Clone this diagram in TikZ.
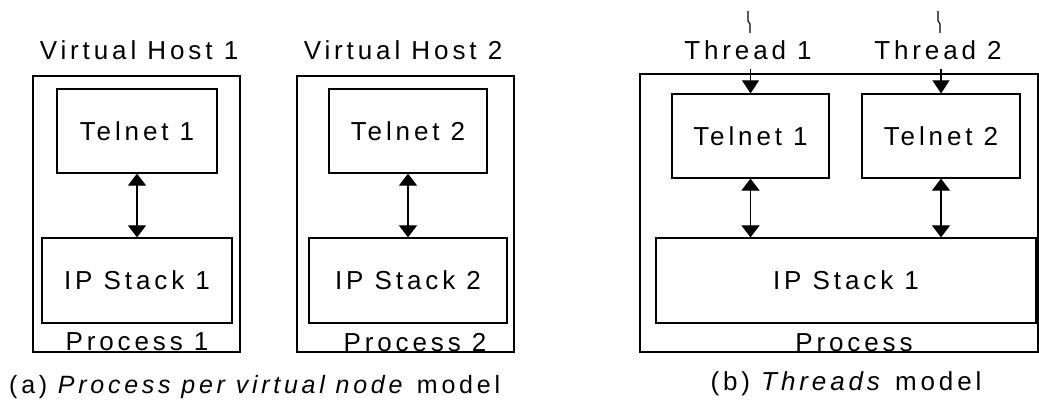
\documentclass[tikz,border=0pt]{standalone}
\usepackage{fontspec}
\setmainfont{Liberation Sans}[LetterSpace=15]
\usetikzlibrary{arrows.meta}
\tikzset{
  txt/.style={font=\fontsize{26}{31}\selectfont},
  box/.style={draw, line width=1.2pt, rectangle, inner sep=0pt, txt},
  lbl/.style={inner sep=0pt, anchor=base, txt},
  link/.style={line width=1.1pt, {Triangle[width=18pt,length=12pt]}-{Triangle[width=18pt,length=12pt]}},
  feed/.style={line width=1.1pt, -{Triangle[width=17pt,length=13pt]}},
  tick/.style={line width=1.1pt}
}
\begin{document}
\begin{tikzpicture}[x=1pt,y=-1pt]
\useasboundingbox (0,0) rectangle (1039,403);

% (a) one process per virtual host
\node[box, minimum width=207pt, minimum height=276pt] (vh1) at (136.5,214) {};
\node[box, minimum width=160pt, minimum height=84pt] (tel1a) at (137,131) {Telnet 1};
\node[box, minimum width=190pt, minimum height=85pt] (ip1a) at (137,280.5) {IP Stack 1};
\node[lbl] (vh1lbl) at (139,60) {Virtual Host 1};
\node[lbl] (p1lbl) at (137,351) {Process 1};
\draw[link] (tel1a.south) -- (ip1a.north);

\node[box, minimum width=217pt, minimum height=276pt] (vh2) at (405.5,214) {};
\node[box, minimum width=158pt, minimum height=84pt] (tel2a) at (408,131) {Telnet 2};
\node[box, minimum width=198pt, minimum height=85pt] (ip2a) at (408,280.5) {IP Stack 2};
\node[lbl] (vh2lbl) at (403,60) {Virtual Host 2};
\node[lbl] (p2lbl) at (415,352) {Process 2};
\draw[link] (tel2a.south) -- (ip2a.north);

\node[lbl, anchor=base west, font=\fontsize{25}{30}\selectfont] (capa) at (9,393) {(a) \textit{Process per virtual node} model};

% (b) one process, one thread per session
\node[box, minimum width=398pt, minimum height=278pt] (proc) at (839,213) {};
\node[box, minimum width=157pt, minimum height=84pt] (tel1b) at (750.5,136) {Telnet 1};
\node[box, minimum width=158pt, minimum height=84pt] (tel2b) at (941,136) {Telnet 2};
\node[box, minimum width=380pt, minimum height=85pt] (ipb) at (846,280.5) {IP Stack 1};
\node[lbl] (th1lbl) at (748,60) {Thread 1};
\node[lbl] (th2lbl) at (938,60) {Thread 2};
\node[lbl] (pblbl) at (854,352) {Process};
\draw[link] (tel1b.south) -- (tel1b.south |- ipb.north);
\draw[link] (tel2b.south) -- (tel2b.south |- ipb.north);

\coordinate (t1in) at ([yshift=24pt]tel1b.north);
\coordinate (t2in) at ([yshift=24pt]tel2b.north);
\draw[feed] (t1in) -- (tel1b.north);
\draw[feed] (t2in) -- (tel2b.north);

% small break marks above the thread labels
\draw[tick] (748,11) -- (748,21) -- (750,24) -- (750,33);
\draw[tick] (938,11) -- (938,21) -- (940,24) -- (940,33);

\node[lbl] (capb) at (846,390) {(b) \textit{Threads} model};
\end{tikzpicture}
\end{document}
